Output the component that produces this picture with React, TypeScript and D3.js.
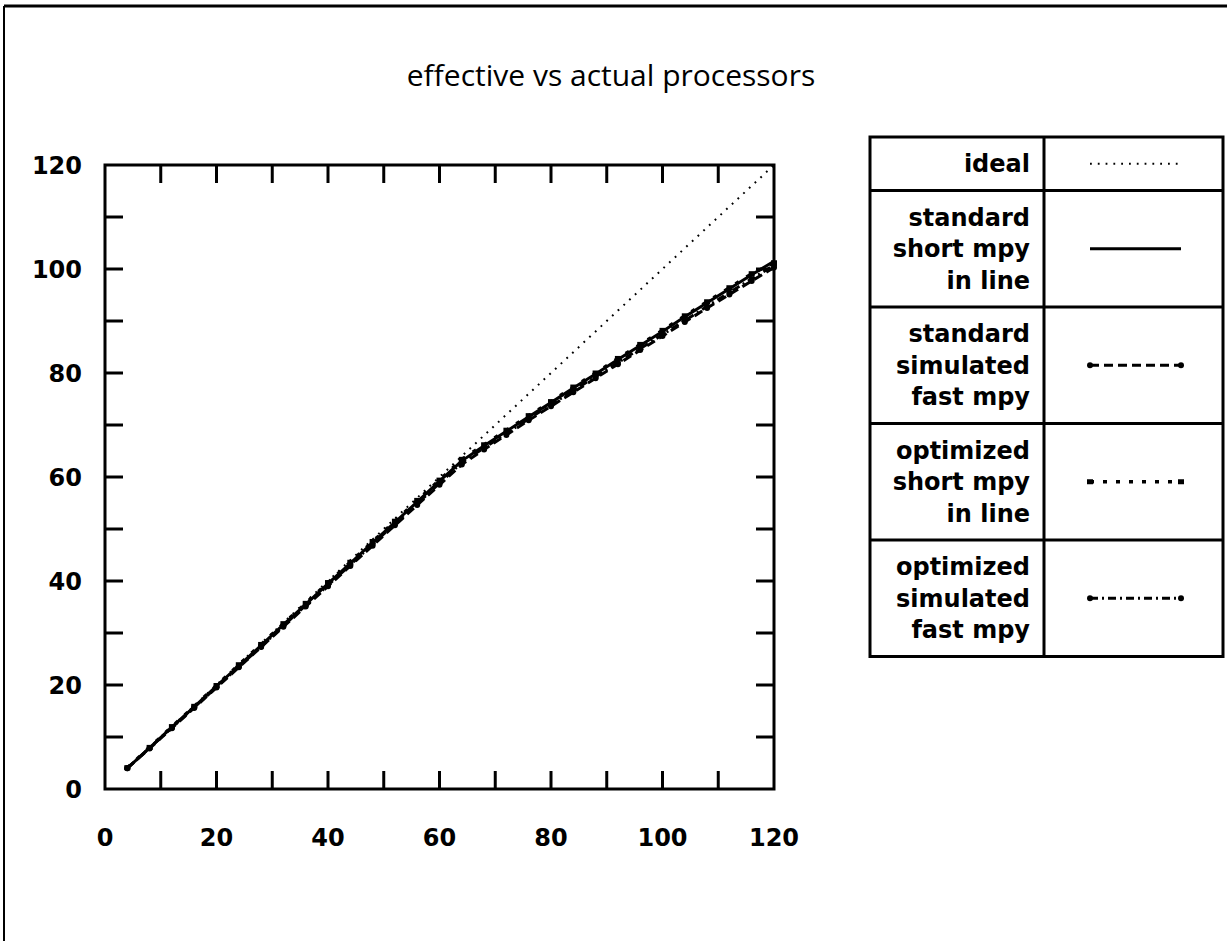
import React from "react";
import * as d3 from "d3";

// Number of actual processors sampled
const procs = [4, 8, 12, 16, 20, 24, 28, 32, 36, 40, 44, 48, 52, 56, 60, 64, 68, 72, 76, 80, 84, 88, 92, 96, 100, 104, 108, 112, 116, 120];

// Effective processors per configuration
const idealValues = [4, 8, 12, 16, 20, 24, 28, 32, 36, 40, 44, 48, 52, 56, 60, 64, 68, 72, 76, 80, 84, 88, 92, 96, 100, 104, 108, 112, 116, 120];
const stdShortValues = [4.0, 7.9, 11.9, 15.8, 19.8, 23.7, 27.6, 31.6, 35.5, 39.5, 43.4, 47.4, 51.3, 55.2, 59.2, 63.1, 66.0, 68.8, 71.6, 74.3, 77.1, 79.8, 82.6, 85.3, 88.0, 90.8, 93.5, 96.2, 98.9, 101.5];
const stdSimValues = [4.0, 7.8, 11.7, 15.6, 19.5, 23.4, 27.3, 31.2, 35.1, 39.0, 42.9, 46.8, 50.7, 54.6, 58.5, 62.4, 65.3, 68.1, 70.9, 73.6, 76.3, 79.0, 81.7, 84.4, 87.1, 89.8, 92.5, 95.1, 97.7, 100.3];
const optShortValues = [4.1, 8.0, 12.0, 15.9, 19.9, 23.9, 27.8, 31.8, 35.7, 39.7, 43.6, 47.6, 51.5, 55.5, 59.4, 63.4, 66.2, 69.0, 71.8, 74.5, 77.3, 80.0, 82.8, 85.5, 88.2, 91.0, 93.7, 96.4, 99.1, 101.2];
const optSimValues = [4.0, 7.9, 11.8, 15.7, 19.6, 23.5, 27.4, 31.4, 35.3, 39.2, 43.1, 47.1, 51.0, 54.9, 58.8, 62.8, 65.6, 68.4, 71.2, 73.9, 76.6, 79.3, 82.0, 84.7, 87.4, 90.1, 92.8, 95.5, 98.1, 100.7];

const xTickLabels = [0, 20, 40, 60, 80, 100, 120];
const yTickLabels = [0, 20, 40, 60, 80, 100, 120];
const minorTicks = [10, 20, 30, 40, 50, 60, 70, 80, 90, 100, 110];

const titleText = "effective vs actual processors";

type Marker = "none" | "circle" | "square";
interface Series {
  label: string[];
  values: number[];
  dash: string;
  width: number;
  marker: Marker;
}

const series: Series[] = [
  { label: ["ideal"], values: idealValues, dash: "1.8 6", width: 2, marker: "none" },
  { label: ["standard", "short mpy", "in line"], values: stdShortValues, dash: "", width: 3, marker: "none" },
  { label: ["standard", "simulated", "fast mpy"], values: stdSimValues, dash: "9 5", width: 3, marker: "circle" },
  { label: ["optimized", "short mpy", "in line"], values: optShortValues, dash: "4 9", width: 3.4, marker: "square" },
  { label: ["optimized", "simulated", "fast mpy"], values: optSimValues, dash: "8 4 2 4", width: 3, marker: "circle" },
];

const W = 1227;
const H = 941;
const plot = { left: 105, right: 774, top: 165, bottom: 789 };
const tickLen = 18;
const titleFont = "'Open Sans', 'DejaVu Sans', sans-serif";
const labelFont = "'DejaVu Sans', 'Open Sans', sans-serif";

const legend = { left: 870, mid: 1044, right: 1223, top: 137, lineH: 31.5, pad: 22 };

function MarkerShape({ kind, x, y }: { kind: Marker; x: number; y: number }) {
  if (kind === "circle") return <circle cx={x} cy={y} r={3} fill="#000" />;
  if (kind === "square") return <rect x={x - 3} y={y - 2.5} width={6} height={5} fill="#000" />;
  return null;
}

export default function App() {
  const x = d3.scaleLinear().domain([0, 120]).range([plot.left, plot.right]);
  const y = d3.scaleLinear().domain([0, 120]).range([plot.bottom, plot.top]);

  const line = d3
    .line<number>()
    .x((_, i) => x(procs[i]))
    .y((v) => y(v));

  // legend row geometry
  const rows: { top: number; bottom: number }[] = [];
  let cursor = legend.top;
  series.forEach((s) => {
    const h = s.label.length * legend.lineH + legend.pad;
    rows.push({ top: cursor, bottom: cursor + h });
    cursor += h;
  });
  const legendBottom = cursor;

  return (
    <div style={{ position: "absolute", left: 0, top: 0 }}>
      <svg width={W} height={H} viewBox={`0 0 ${W} ${H}`} style={{ display: "block", background: "#fff" }}>
        <rect x={0} y={0} width={W} height={H} fill="#fff" />
        {/* page frame */}
        <line x1={4} y1={6} x2={W} y2={6} stroke="#000" strokeWidth={3} />
        <line x1={4} y1={6} x2={4} y2={H} stroke="#000" strokeWidth={2} />

        <text x={611} y={86} textAnchor="middle" fontFamily={titleFont} fontSize={30} fill="#000">
          {titleText}
        </text>

        {/* plot frame */}
        <rect
          x={plot.left}
          y={plot.top}
          width={plot.right - plot.left}
          height={plot.bottom - plot.top}
          fill="none"
          stroke="#000"
          strokeWidth={3}
        />

        {/* inward ticks on all four sides */}
        {minorTicks.map((t) => (
          <g key={"t" + t} stroke="#000" strokeWidth={3}>
            <line x1={x(t)} y1={plot.bottom} x2={x(t)} y2={plot.bottom - tickLen} />
            <line x1={x(t)} y1={plot.top} x2={x(t)} y2={plot.top + tickLen} />
            <line x1={plot.left} y1={y(t)} x2={plot.left + tickLen} y2={y(t)} />
            <line x1={plot.right} y1={y(t)} x2={plot.right - tickLen} y2={y(t)} />
          </g>
        ))}

        {xTickLabels.map((t) => (
          <text
            key={"xl" + t}
            x={x(t)}
            y={846}
            textAnchor="middle"
            fontFamily={labelFont}
            fontWeight={700}
            fontSize={24}
            fill="#000"
          >
            {t}
          </text>
        ))}
        {yTickLabels.map((t) => (
          <text
            key={"yl" + t}
            x={82}
            y={y(t)}
            dy="0.36em"
            textAnchor="end"
            fontFamily={labelFont}
            fontWeight={700}
            fontSize={24}
            fill="#000"
          >
            {t}
          </text>
        ))}

        {/* data lines */}
        {series.map((s, si) => (
          <g key={"s" + si}>
            <path
              d={line(s.values) || ""}
              fill="none"
              stroke="#000"
              strokeWidth={s.width}
              strokeDasharray={s.dash || undefined}
              strokeLinejoin="round"
            />
            {s.marker !== "none" &&
              s.values.map((v, i) => <MarkerShape key={i} kind={s.marker} x={x(procs[i])} y={y(v)} />)}
          </g>
        ))}

        {/* legend table */}
        <g>
          <rect
            x={legend.left}
            y={legend.top}
            width={legend.right - legend.left}
            height={legendBottom - legend.top}
            fill="#fff"
            stroke="#000"
            strokeWidth={3}
          />
          <line x1={legend.mid} y1={legend.top} x2={legend.mid} y2={legendBottom} stroke="#000" strokeWidth={3} />
          {series.map((s, si) => {
            const r = rows[si];
            const cy = (r.top + r.bottom) / 2;
            const firstY = cy - ((s.label.length - 1) * legend.lineH) / 2;
            const sx1 = 1090;
            const sx2 = 1181;
            return (
              <g key={"lg" + si}>
                {si > 0 && (
                  <line x1={legend.left} y1={r.top} x2={legend.right} y2={r.top} stroke="#000" strokeWidth={3} />
                )}
                {s.label.map((ln, li) => (
                  <text
                    key={li}
                    x={1030}
                    y={firstY + li * legend.lineH}
                    dy="0.36em"
                    textAnchor="end"
                    fontFamily={labelFont}
                    fontWeight={700}
                    fontSize={24}
                    fill="#000"
                  >
                    {ln}
                  </text>
                ))}
                <line
                  x1={sx1}
                  y1={cy}
                  x2={sx2}
                  y2={cy}
                  stroke="#000"
                  strokeWidth={s.width}
                  strokeDasharray={s.dash || undefined}
                />
                {s.marker !== "none" && (
                  <>
                    <MarkerShape kind={s.marker} x={sx1} y={cy} />
                    <MarkerShape kind={s.marker} x={sx2} y={cy} />
                  </>
                )}
              </g>
            );
          })}
        </g>
      </svg>
    </div>
  );
}
